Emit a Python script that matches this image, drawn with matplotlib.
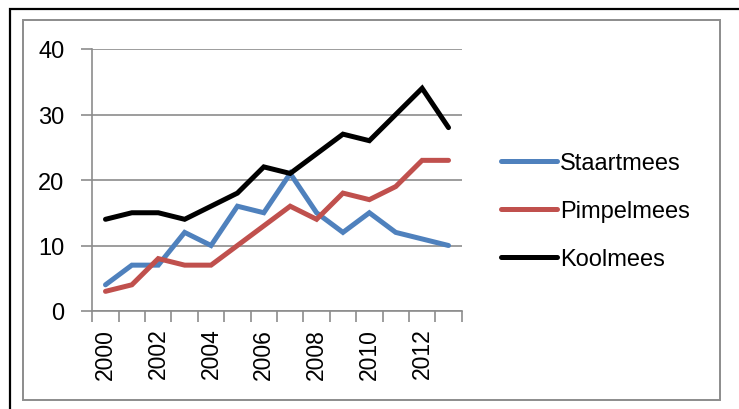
import matplotlib
matplotlib.use("Agg")
import matplotlib.pyplot as plt
from matplotlib.patches import Rectangle
import numpy as np

years = [2000, 2001, 2002, 2003, 2004, 2005, 2006, 2007, 2008, 2009, 2010, 2011, 2012, 2013]
staartmees = [4, 7, 7, 12, 10, 16, 15, 21, 15, 12, 15, 12, 11, 10]
pimpelmees = [3, 4, 8, 7, 7, 10, 13, 16, 14, 18, 17, 19, 23, 23]
koolmees = [14, 15, 15, 14, 16, 18, 22, 21, 24, 27, 26, 30, 34, 28]
series_names = ["Staartmees", "Pimpelmees", "Koolmees"]
y_ticks = [0, 10, 20, 30, 40]

plt.rcParams['font.family'] = ['Liberation Sans', 'DejaVu Sans']

W, H = 739, 410
fig = plt.figure(figsize=(W / 100, H / 100), dpi=100)

# outer black border (open on right/bottom, cropped)
fig.add_artist(Rectangle((10 / W, -0.1), 1.2, (H - 10) / H + 0.1, transform=fig.transFigure,
                         fill=False, edgecolor='black', linewidth=1.6))
# inner gray chart-area border
fig.add_artist(Rectangle((23 / W, (H - 401) / H), (720 - 23) / W, (401 - 21) / H,
                         transform=fig.transFigure, fill=False, edgecolor='#8c8c8c', linewidth=1.4))

ax = fig.add_axes([92.3 / W, (H - 312) / H, (461.7 - 92.3) / W, (312 - 50) / H])
x = np.arange(len(years))
colors = ['#4F81BD', '#C0504D', '#000000']
for vals, name, c in zip([staartmees, pimpelmees, koolmees], series_names, colors):
    ax.plot(x, vals, color=c, linewidth=3.6, label=name, solid_capstyle='round', solid_joinstyle='miter')

ax.set_xlim(-0.5, len(years) - 0.5)
ax.set_ylim(0, 40)
ax.set_yticks(y_ticks)
ax.set_yticklabels([str(v) for v in y_ticks], fontsize=17)
ax.yaxis.grid(True, color='#8c8c8c', linewidth=1.2)
ax.set_axisbelow(True)

ax.set_xticks(np.arange(-0.5, len(years), 1))
ax.set_xticklabels([])
ax.set_xticks(x[::2], minor=True)
ax.set_xticklabels([str(y) for y in years[::2]], minor=True, rotation=90, fontsize=16.5)
ax.tick_params(axis='x', which='major', length=8, width=1.2, color='#8c8c8c', direction='out')
ax.tick_params(axis='x', which='minor', length=0, pad=12)
ax.tick_params(axis='y', length=8, width=1.2, color='#8c8c8c', direction='out', pad=12)

for s in ['top', 'right']:
    ax.spines[s].set_visible(False)
for s in ['left', 'bottom']:
    ax.spines[s].set_color('#8c8c8c')
    ax.spines[s].set_linewidth(1.2)

leg = fig.legend(loc='center left', bbox_to_anchor=(496 / W, (H - 212) / H), frameon=False,
                 borderaxespad=0, borderpad=0.2,
                 fontsize=17, handlelength=2.4, handletextpad=0.1, labelspacing=1.1)

fig.savefig('out.png', dpi=100)
